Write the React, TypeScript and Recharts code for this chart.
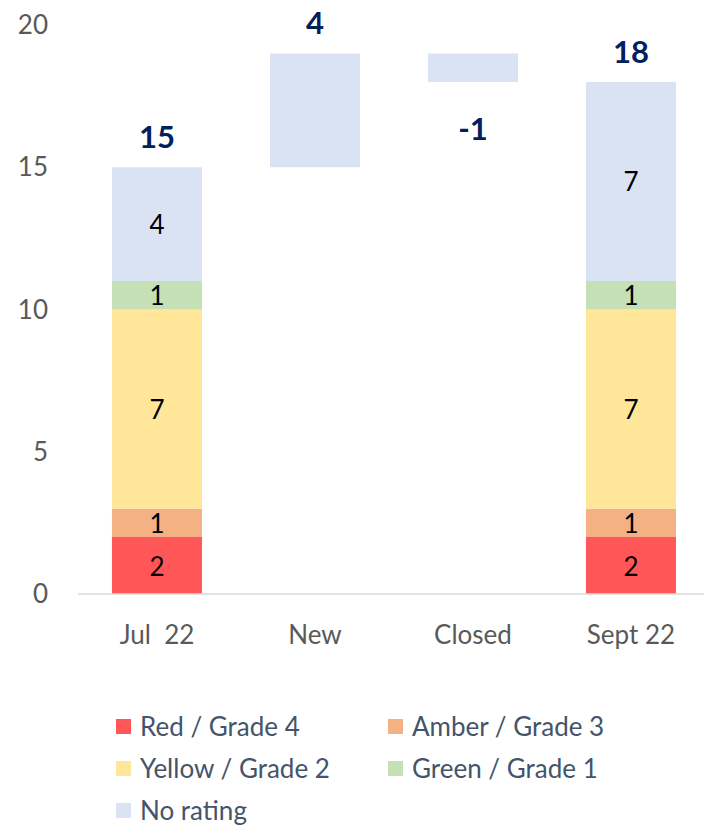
import React from "react";
import { Bar, BarChart, LabelList, XAxis, YAxis } from "recharts";

const categories = ["Jul  22", "New", "Closed", "Sept 22"];
const hiddenBase = [0, 15, 18, 0];
const redGrade4 = [2, 0, 0, 2];
const amberGrade3 = [1, 0, 0, 1];
const yellowGrade2 = [7, 0, 0, 7];
const greenGrade1 = [1, 0, 0, 1];
const noRating = [4, 4, 1, 7];
const barTotals = [15, 4, -1, 18];
const yTicks = [0, 5, 10, 15, 20];

const SERIES = [
  { key: "red", name: "Red / Grade 4", color: "#FF5757", values: redGrade4 },
  { key: "amber", name: "Amber / Grade 3", color: "#F4B183", values: amberGrade3 },
  { key: "yellow", name: "Yellow / Grade 2", color: "#FFE699", values: yellowGrade2 },
  { key: "green", name: "Green / Grade 1", color: "#C5E0B4", values: greenGrade1 },
  { key: "none", name: "No rating", color: "#DAE3F3", values: noRating },
];

const FONT = "Lato, 'Open Sans', sans-serif";

// snapshot columns stand on 0; the step columns float on a hidden base
const data = categories.map((c, i) => {
  const row: Record<string, string | number | null> = { cat: c, base: hiddenBase[i], total: barTotals[i] };
  SERIES.forEach((s) => {
    row[s.key] = s.values[i];
    row[s.key + "Label"] = hiddenBase[i] === 0 && s.values[i] ? s.values[i] : null;
  });
  return row;
});

function InnerLabel(props: any) {
  const { x, y, width, height, value } = props;
  if (value === null || value === undefined || value === "") return null;
  return (
    <text
      x={x + width / 2}
      y={y + height / 2}
      textAnchor="middle"
      dominantBaseline="central"
      fontSize={26}
      fontFamily={FONT}
      fill="#000000"
    >
      {value}
    </text>
  );
}

// column total above the bar, below it when the step is negative
function TotalLabel(props: any) {
  const { x, y, width, height, value } = props;
  const ty = value < 0 ? y + height + 46 : y - 31;
  return (
    <text
      x={x + width / 2}
      y={ty}
      textAnchor="middle"
      dominantBaseline="central"
      fontSize={31}
      fontWeight={700}
      fontFamily={FONT}
      fill="#002060"
    >
      {value}
    </text>
  );
}

function XTick(props: any) {
  const { x, y, payload } = props;
  return (
    <text
      x={x}
      y={y}
      dy="0.71em"
      textAnchor="middle"
      fontSize={26}
      fontFamily={FONT}
      fill="#595959"
      xmlSpace="preserve"
      style={{ whiteSpace: "pre" }}
    >
      {payload.value}
    </text>
  );
}

export default function App() {
  return (
    <div style={{ position: "absolute", left: 0, top: 0, width: 704, height: 826, background: "#fff", overflow: "hidden" }}>
      <BarChart
        width={710}
        height={680}
        data={data}
        margin={{ top: 25, right: 0, bottom: 6, left: 0 }}
        barCategoryGap="21.5%"
      >
        <XAxis
          dataKey="cat"
          axisLine={{ stroke: "#D9D9D9", strokeWidth: 1.5 }}
          tickLine={false}
          tickSize={0}
          tickMargin={32}
          height={80}
          tick={<XTick />}
        />
        <YAxis
          domain={[0, 20]}
          ticks={yTicks}
          axisLine={false}
          tickLine={false}
          tickSize={0}
          tickMargin={30}
          width={78}
          tick={{ fontSize: 26, fontFamily: FONT, fill: "#595959" }}
        />
        <Bar dataKey="base" stackId="s" fill="transparent" isAnimationActive={false} />
        {SERIES.map((s) => (
          <Bar key={s.key} dataKey={s.key} name={s.name} stackId="s" fill={s.color} isAnimationActive={false}>
            <LabelList dataKey={s.key + "Label"} content={<InnerLabel />} />
            {s.key === "none" && <LabelList dataKey="total" content={<TotalLabel />} />}
          </Bar>
        ))}
      </BarChart>
      <div
        style={{
          position: "absolute",
          left: 116,
          top: 705,
          display: "grid",
          gridTemplateColumns: "272px 300px",
          fontFamily: FONT,
          fontSize: 26,
          color: "#44546A",
        }}
      >
        {SERIES.map((s) => (
          <div key={s.key} style={{ display: "flex", alignItems: "center", height: 42 }}>
            <span style={{ width: 15, height: 15, background: s.color, marginRight: 9, flexShrink: 0 }} />
            <span style={{ whiteSpace: "nowrap" }}>{s.name}</span>
          </div>
        ))}
      </div>
    </div>
  );
}
